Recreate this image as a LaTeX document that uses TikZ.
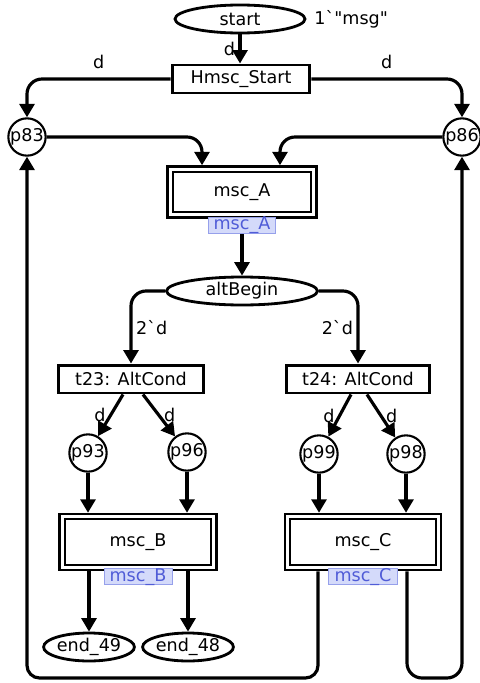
\documentclass[tikz,border=0pt]{standalone}
\usepackage{fontspec}
\setmainfont{DejaVu Sans}
\usetikzlibrary{arrows.meta, positioning, shapes.geometric}

\definecolor{tagfill}{RGB}{212,218,250}
\definecolor{tagline}{RGB}{150,160,235}
\definecolor{tagtext}{RGB}{80,92,215}

\begin{document}
\begin{tikzpicture}[x=0.02cm, y=-0.02cm,
  font=\fontsize{10}{12}\selectfont,
  place/.style={draw, ellipse, line width=1.6pt, minimum height=0.56cm, inner sep=0pt},
  pnode/.style={draw, circle, line width=1.2pt, minimum size=0.6cm, inner sep=0pt},
  trans/.style={draw, rectangle, line width=1.7pt, minimum height=0.56cm, inner sep=0pt},
  subst/.style={draw, rectangle, line width=1.3pt, double, double distance=0.06cm, outer sep=0.075cm, minimum height=1.02cm},
  tag/.style={fill=tagfill, draw=tagline, line width=0.4pt, text=tagtext, inner sep=0.3pt, text height=7pt, text depth=1.5pt},
  arc/.style={line width=1.8pt, -{Triangle[width=0.3cm, length=0.27cm]}},
  lbl/.style={inner sep=2pt}]

  \useasboundingbox (0,0) rectangle (480,683);

  \node[place, minimum width=2.6cm] (start) at (240,19) {start};
  \node[right=1pt of start] (tok) {1\textasciigrave\textquotedbl msg\textquotedbl};
  \node[trans, minimum width=2.76cm] (hstart) at (241,79) {Hmsc\_Start};
  \node[pnode] (p83) at (27,137) {p83};
  \node[pnode] (p86) at (462,137) {p86};
  \node[subst, minimum width=2.88cm, minimum height=0.92cm] (mscA) at (242,192) {msc\_A};
  \node[place, minimum width=3.02cm] (alt) at (242,291) {altBegin};
  \node[trans, minimum width=2.9cm] (t23) at (131,379) {t23: AltCond};
  \node[trans, minimum width=2.86cm] (t24) at (358,379) {t24: AltCond};
  \node[pnode] (p93) at (88,453) {p93};
  \node[pnode] (p96) at (187,452) {p96};
  \node[pnode] (p99) at (319,454) {p99};
  \node[pnode] (p98) at (406,454) {p98};
  \node[subst, minimum width=3.04cm] (mscB) at (138,542) {msc\_B};
  \node[subst, minimum width=3.02cm] (mscC) at (363,542) {msc\_C};
  \node[place, minimum width=1.7cm] (end49) at (89,647) {end\_49};
  \node[place, minimum width=1.72cm] (end48) at (188,647) {end\_48};

  \coordinate (loopL) at (318,678);
  \coordinate (loopR) at (407,678);

  \draw[arc] (start) -- (start |- hstart.north) node[lbl, midway, left] {d};
  \draw[arc, rounded corners=0.3cm] (hstart) -| (p83) node[lbl, pos=0.25, above=3pt] {d};
  \draw[arc, rounded corners=0.3cm] (hstart) -| (p86) node[lbl, pos=0.25, above=3pt] {d};
  \draw[arc, rounded corners=0.3cm] (p83) -| ([xshift=-0.8cm]mscA.north);
  \draw[arc, rounded corners=0.3cm] (p86) -| ([xshift=0.76cm]mscA.north);
  \draw[arc] (mscA) -- (alt);
  \draw[arc, rounded corners=0.3cm] (alt) -| (t23) node[lbl, pos=0.75, right] {2\textasciigrave d};
  \draw[arc, rounded corners=0.3cm] (alt) -| (t24) node[lbl, pos=0.75, left] {2\textasciigrave d};

  \draw[arc] ([xshift=-0.16cm]t23.south) -- (p93) node[lbl, midway, left] {d};
  \draw[arc] ([xshift=0.24cm]t23.south) -- (p96) node[lbl, midway, right] {d};
  \draw[arc] ([xshift=-0.14cm]t24.south) -- (p99) node[lbl, midway, left] {d};
  \draw[arc] ([xshift=0.18cm]t24.south) -- (p98) node[lbl, midway, right] {d};

  \draw[arc] (p93) -- (p93 |- mscB.north);
  \draw[arc] (p96) -- (p96 |- mscB.north);
  \draw[arc] (p99) -- (p99 |- mscC.north);
  \draw[arc] (p98) -- (p98 |- mscC.north);
  \draw[arc] (end49 |- mscB.south) -- (end49);
  \draw[arc] (end48 |- mscB.south) -- (end48);
  \draw[arc, rounded corners=0.25cm] (loopL |- mscC.south) -- (loopL) -| (p83);
  \draw[arc, rounded corners=0.3cm] (loopR |- mscC.south) -- (loopR) -| (p86);

  \node[tag, minimum width=1.34cm, below=-0.04cm of mscA] (tagA) {msc\_A};
  \node[tag, minimum width=1.36cm, below=-0.06cm of mscB] (tagB) {msc\_B};
  \node[tag, minimum width=1.38cm, below=-0.06cm of mscC] (tagC) {msc\_C};

\end{tikzpicture}
\end{document}
